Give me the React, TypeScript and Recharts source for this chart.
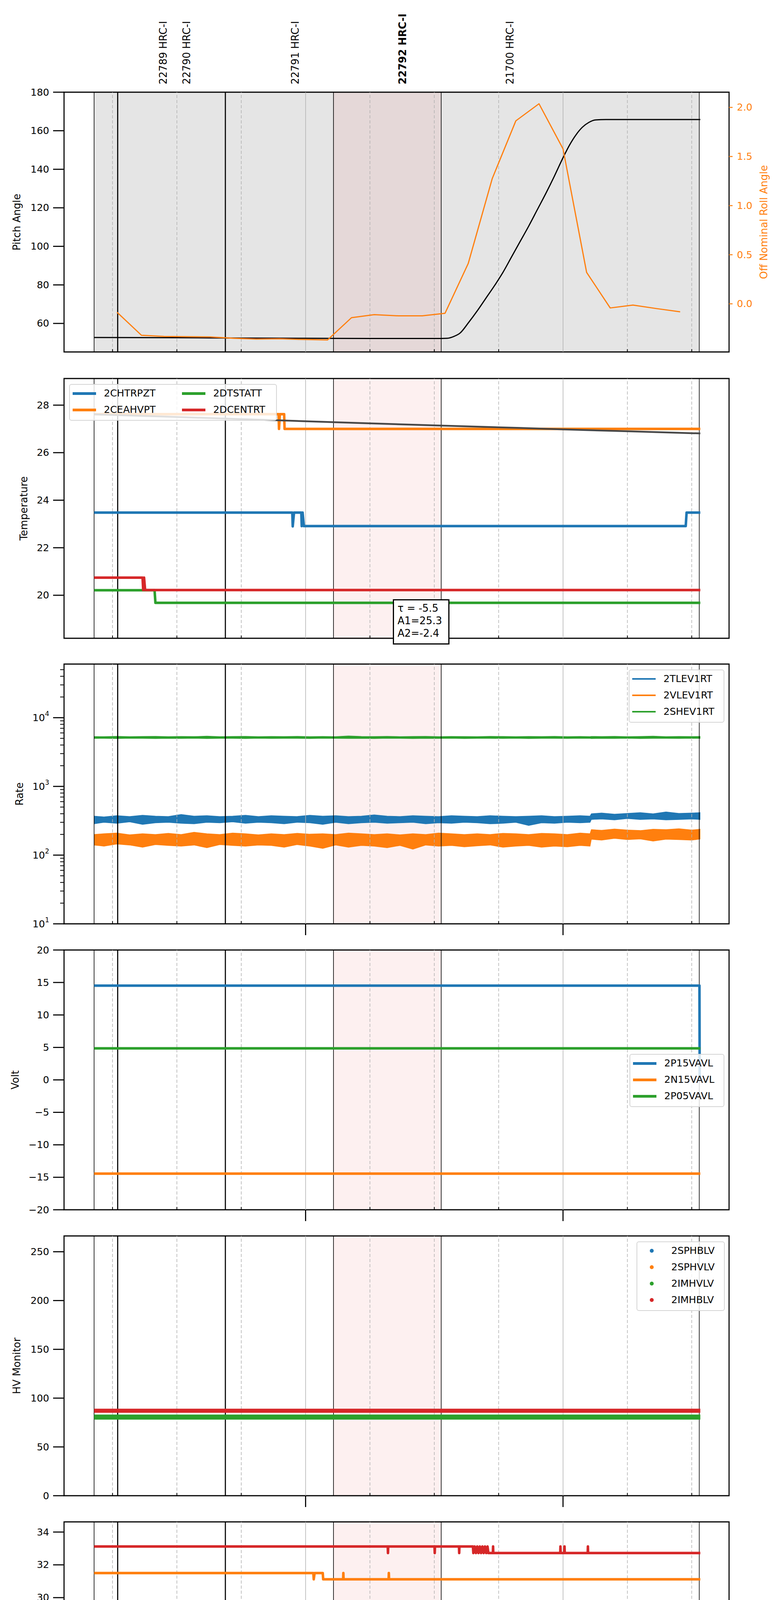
import React from "react";
import { Area, ComposedChart, Line, ReferenceArea, ReferenceLine, XAxis, YAxis } from "recharts";

const BLUE = "#1f77b4";
const ORANGE = "#ff7f0e";
const GREEN = "#2ca02c";
const RED = "#d62728";
const FONT = "DejaVu Sans";

// time axis: minutes after 06:00, 2020-03-23
const X_DOMAIN: [number, number] = [3.7, 158.7];
const X_TICKS = [15, 30, 45, 60, 75, 90, 105, 120, 135, 150];
const X_TICK_LABELS = ["15", "30", "45", "07h", "15", "30", "45", "08h", "15", "30"];
const HOUR_TICKS = [60, 120];

const OBS_EDGES_THIN = [10.7, 66.5, 91.6, 151.75];
const OBS_EDGES_THICK = [16.2, 41.3];
const OBS_SPAN: [number, number] = [10.7, 151.75];
const FOCUS_SPAN: [number, number] = [66.5, 91.6];
const OBS_LABEL_T = [26.83, 32.25, 57.56, 82.6, 107.6];
const OBS_LABELS = ["22789 HRC-I", "22790 HRC-I", "22791 HRC-I", "22792 HRC-I", "21700 HRC-I"];
const FOCUS_LABEL = "22792 HRC-I";

// pitch / roll
const PITCH = [
  [10.7, 52.7], [30, 52.6], [45, 52.4], [60, 52.3], [75, 52.2], [91.6, 52.2], [93, 52.3], [94.5, 53.2],
  [96, 55], [98, 60.5], [100, 66.5], [102, 73], [104, 79.5], [106, 86.5], [108, 94.5], [110, 102.5],
  [112, 110.5], [114, 119], [116, 127.5], [118, 136.5], [120, 146], [121.5, 152.5], [123, 157.8],
  [124.5, 161.8], [126, 164.3], [127.6, 165.6], [130, 165.8], [152, 165.8],
];
const ROLL = [
  [16.05, -0.086], [21.74, -0.32], [26.98, -0.332], [32.8, -0.335], [37.7, -0.337], [43.3, -0.351],
  [48.5, -0.359], [54.0, -0.356], [59.5, -0.363], [65.1, -0.368], [70.7, -0.141], [76.0, -0.11],
  [81.6, -0.122], [87.2, -0.122], [92.5, -0.096], [97.9, 0.41], [103.5, 1.275], [109.0, 1.863],
  [114.4, 2.037], [120.0, 1.578], [125.5, 0.32], [131.0, -0.042], [136.3, -0.013], [141.9, -0.049],
  [147.3, -0.081],
];
const PITCH_TICKS = [60, 80, 100, 120, 140, 160, 180];
const ROLL_TICKS = [0, 0.5, 1, 1.5, 2];

// temperature
const TEMP_MODEL = [[10.7, 27.61], [30, 27.5], [53.7, 27.36], [72, 27.25], [91.6, 27.14], [110, 27.04], [120, 26.98], [135, 26.9], [152, 26.81]];
const CHTRPZT = [[10.7, 23.48], [56.9, 23.48], [57.0, 22.9], [57.3, 23.48], [59.0, 23.48], [59.1, 22.91], [59.3, 23.48], [59.6, 22.91], [148.6, 22.91], [148.8, 23.48], [152, 23.48]];
const CEAHVPT = [[10.7, 27.62], [53.7, 27.62], [53.8, 27.0], [54.0, 27.62], [55.0, 27.62], [55.1, 27.0], [152, 27.0]];
const DTSTATT = [[10.7, 20.21], [24.8, 20.21], [25.0, 19.68], [152, 19.68]];
const DCENTRT = [[10.7, 20.74], [22.0, 20.74], [22.15, 20.22], [22.35, 20.74], [22.6, 20.22], [152, 20.22]];
const TEMP_TICKS = [20, 22, 24, 26, 28];

// rates (noisy bands: low / high envelope)
const RATE_T = [
  10.7, 13, 16, 19, 22, 25, 28, 31, 34, 37,
  40, 43, 46, 49, 52, 55, 58, 61, 64, 67,
  70, 73, 76, 79, 82, 85, 88, 91, 94, 97,
  100, 103, 106, 109, 112, 115, 118, 121, 124, 126.3,
  126.6, 129, 132, 135, 138, 141, 144, 147, 150, 152,
];
const TLEV_LO = [
  285, 300, 290, 305, 280, 295, 300, 290, 285, 300,
  295, 305, 290, 300, 295, 285, 300, 295, 280, 300,
  285, 295, 300, 290, 295, 300, 285, 295, 290, 300,
  295, 285, 290, 300, 270, 295, 290, 300, 295, 300,
  330, 335, 325, 340, 330, 335, 325, 330, 335, 330,
];
const TLEV_HI = [
  370, 360, 375, 365, 380, 370, 365, 390, 370, 375,
  365, 370, 380, 365, 375, 370, 365, 380, 370, 375,
  365, 370, 385, 370, 365, 375, 370, 365, 375, 370,
  365, 375, 370, 365, 370, 375, 365, 370, 375, 370,
  400, 410, 395, 405, 415, 400, 425, 405, 410, 415,
];
const VLEV_LO = [
  140, 135, 145, 140, 130, 142, 138, 135, 140, 128,
  142, 138, 135, 140, 138, 130, 142, 135, 125, 140,
  130, 138, 135, 128, 138, 122, 140, 135, 138, 132,
  136, 140, 130, 135, 138, 130, 135, 132, 138, 135,
  170, 165, 175, 168, 172, 160, 170, 168, 165, 172,
];
const VLEV_HI = [
  200, 205, 210, 198, 205, 200, 208, 200, 215, 205,
  200, 210, 205, 198, 205, 200, 208, 202, 205, 200,
  210, 205, 200, 205, 198, 205, 200, 210, 205, 200,
  205, 200, 208, 205, 200, 208, 205, 200, 210, 205,
  235, 230, 240, 232, 228, 238, 235, 242, 232, 238,
];
const SHEV_LO = [
  4980, 5000, 4960, 5010, 4990, 4970, 5000, 4980, 5010, 4960,
  4990, 5000, 4970, 5010, 4980, 4990, 5000, 4960, 5010, 4990,
  4980, 5000, 4970, 5010, 4990, 4960, 5000, 4980, 5010, 4970,
  4990, 5000, 4980, 5010, 4960, 4990, 5000, 4980, 5010, 4990,
  4970, 5000, 4980, 5010, 4960, 4990, 5000, 4980, 5010, 4990,
];
const SHEV_HI = [
  5320, 5300, 5350, 5310, 5330, 5360, 5300, 5340, 5320, 5380,
  5310, 5330, 5350, 5300, 5340, 5320, 5360, 5310, 5330, 5300,
  5420, 5340, 5320, 5350, 5310, 5330, 5360, 5300, 5340, 5320,
  5310, 5350, 5330, 5300, 5340, 5320, 5360, 5310, 5330, 5300,
  5340, 5320, 5350, 5310, 5330, 5380, 5300, 5340, 5320, 5330,
];
const RATE_MAJOR = [10, 100, 1000, 10000];
const RATE_MINOR = [
  20, 30, 40, 50, 60, 70, 80, 90, 200, 300, 400, 500, 600, 700, 800, 900,
  2000, 3000, 4000, 5000, 6000, 7000, 8000, 9000, 20000, 30000, 40000, 50000,
];

// voltages
const P15VAVL = [[10.7, 14.51], [151.8, 14.51], [151.85, 0]];
const N15VAVL = [[10.7, -14.43], [152, -14.43]];
const P05VAVL = [[10.7, 4.86], [152, 4.86]];
const VOLT_TICKS = [-20, -15, -10, -5, 0, 5, 10, 15, 20];

// HV monitor
const IMHVLV = [[10.7, 80.6], [152, 80.6]];
const IMHBLV = [[10.7, 87.1], [152, 87.1]];
const HV_TICKS = [0, 50, 100, 150, 200, 250];

// detector temperatures
const SPINATM = [[10.7, 20.97], [152, 20.97]];
const SPHVATM = [
  [10.7, 31.5], [61.8, 31.5], [61.9, 31.12], [62.1, 31.5], [64.0, 31.5], [64.1, 31.12], [68.75, 31.12],
  [68.8, 31.5], [68.85, 31.12], [79.35, 31.12], [79.4, 31.5], [79.45, 31.12], [152, 31.12],
];
const IMINATM = [
  [10.7, 20.97], [81.0, 20.97], [81.05, 20.28], [81.1, 20.97], [82.15, 20.97], [82.2, 20.28], [82.3, 20.97],
  [83.3, 20.97], [83.4, 20.28], [83.65, 20.97], [83.9, 20.28], [84.15, 20.97], [84.4, 20.28], [84.65, 20.97],
  [84.9, 20.28], [85.15, 20.97], [85.4, 20.28], [85.65, 20.97], [85.8, 20.28], [152, 20.28],
];
const IMHVATM = [
  [10.7, 33.12], [79.15, 33.12], [79.2, 32.72], [79.25, 33.12], [90.05, 33.12], [90.1, 32.72], [90.15, 33.12],
  [95.75, 33.12], [95.8, 32.72], [95.85, 33.12], [99.0, 33.12], [99.1, 32.72], [99.4, 33.12], [99.7, 32.72],
  [100.0, 33.12], [100.3, 32.72], [100.6, 33.12], [100.9, 32.72], [101.2, 33.12], [101.5, 32.72],
  [101.8, 33.12], [102.1, 32.72], [102.4, 33.12], [102.6, 32.72], [103.65, 32.72], [103.7, 33.12],
  [103.75, 32.72], [119.35, 32.72], [119.4, 33.12], [119.45, 32.72], [120.3, 32.72], [120.35, 33.12],
  [120.4, 32.72], [125.75, 32.72], [125.8, 33.12], [125.85, 32.72], [152, 32.72],
];
const DET_TICKS = [20, 22, 24, 26, 28, 30, 32, 34];

// FEA temperatures
const FHTRMZT = [[10.7, 20.72], [49.8, 20.72], [50.0, 19.12], [50.2, 20.72], [57.5, 20.72], [57.6, 20.18], [149.6, 20.18], [149.7, 20.72], [152, 20.72]];
const FRADPYT = [[10.7, 15.7], [74.6, 15.7], [74.7, 15.24], [119.7, 15.24], [119.8, 15.7], [132.2, 15.7], [132.3, 16.18], [146.7, 16.18], [146.8, 16.66], [152, 16.66]];
const FEPRATM = [[10.7, 23.13], [128.9, 23.13], [128.95, 22.36], [129.0, 23.13], [152, 23.13]];
const FE00ATM = [
  [10.7, 20.77], [25.55, 20.77], [25.6, 21.12], [25.65, 20.77], [34.75, 20.77], [34.8, 20.47], [34.85, 20.77],
  [36.0, 20.77], [36.05, 20.47], [36.1, 20.77], [37.15, 20.77], [37.2, 20.47], [37.25, 20.77], [40.3, 20.77],
  [40.4, 20.47], [40.7, 20.77], [41.0, 20.47], [41.3, 20.77], [41.6, 20.47], [41.9, 20.77], [42.2, 20.47],
  [42.5, 20.77], [42.8, 20.47], [43.1, 20.77], [43.3, 20.47],
  [52.3, 20.47], [52.35, 20.8], [52.4, 20.1], [52.45, 20.47], [60.75, 20.47], [60.8, 19.82], [60.85, 20.47],
  [67.35, 20.47], [67.4, 20.82], [67.45, 20.47], [70.15, 20.47], [70.2, 20.82], [70.25, 20.47],
  [93.65, 20.47], [93.7, 20.12], [93.75, 20.47], [110.05, 20.47], [110.1, 20.12], [110.15, 20.47],
  [118.45, 20.47], [118.5, 20.82], [118.55, 20.47], [129.25, 20.47], [129.3, 19.54], [129.35, 20.47],
  [140.45, 20.47], [140.5, 21.12], [140.55, 20.47], [146.25, 20.47], [146.3, 20.12], [146.35, 20.47],
  [152, 20.47],
];
const FEA_TICKS = [14, 16, 18, 20, 22, 24];

const FIT_LINES = ["τ = -5.5", "A1=25.3", "A2=-2.4"];

// ---- layout
const CHART_W = 2000;
const PAGE_H = 5400;
const PLOT_LEFT = 164;
const RIGHT_GAP = 133;
const PLOT_H = 665;
const XAXIS_H = 80;
const PANEL_TOPS = [236, 969, 1700, 2432, 3164, 3896, 4628];

const toPts = (a: number[][]) => a.map(([t, v]) => ({ t, v }));
const band = (lo: number[], hi: number[]) => RATE_T.map((t, i) => ({ t, r: [lo[i], hi[i]] }));
const minus = (s: string) => s.replace("-", "\u2212");

function xTick(showLabels: boolean, outerTicks: boolean) {
  return (p: any) => {
    const { x, y, payload } = p;
    const i = X_TICKS.indexOf(payload.value);
    if (HOUR_TICKS.includes(payload.value)) {
      return (
        <g>
          {outerTicks && <line x1={x} x2={x} y1={y} y2={y + 29} stroke="#000" strokeWidth={2.8} />}
          {showLabels && (
            <text x={x} y={y + 51} textAnchor="middle" dominantBaseline="central" fontSize={26} fontFamily={FONT} fill="#000">
              {X_TICK_LABELS[i]}
            </text>
          )}
        </g>
      );
    }
    return (
      <g>
        <line x1={x} x2={x} y1={y} y2={y - 7} stroke="#000" strokeWidth={2} />
        {showLabels && (
          <text x={x} y={y + 16} textAnchor="middle" dominantBaseline="central" fontSize={17} fontFamily={FONT} fill="#000">
            {X_TICK_LABELS[i]}
          </text>
        )}
      </g>
    );
  };
}

function leftTick(fmt: (v: number) => string) {
  return (p: any) => {
    const { x, y, payload } = p;
    return (
      <g>
        <line x1={x - 28} x2={x} y1={y} y2={y} stroke="#000" strokeWidth={2.8} />
        <text x={x - 38} y={y} textAnchor="end" dominantBaseline="central" fontSize={25} fontFamily={FONT} fill="#000">
          {fmt(payload.value)}
        </text>
      </g>
    );
  };
}

function rollTick(p: any) {
  const { x, y, payload } = p;
  return (
    <g>
      <line x1={x} x2={x + 9} y1={y} y2={y} stroke={ORANGE} strokeWidth={2.5} />
      <text x={x + 20} y={y} textAnchor="start" dominantBaseline="central" fontSize={25} fontFamily={FONT} fill={ORANGE}>
        {payload.value.toFixed(1)}
      </text>
    </g>
  );
}

function logTick(p: any) {
  const { x, y, payload } = p;
  if (!RATE_MAJOR.includes(payload.value)) {
    return <line x1={x - 10} x2={x} y1={y} y2={y} stroke="#000" strokeWidth={2} />;
  }
  const exp = Math.round(Math.log10(payload.value));
  return (
    <g>
      <line x1={x - 28} x2={x} y1={y} y2={y} stroke="#000" strokeWidth={2.8} />
      <text x={x - 38} y={y} textAnchor="end" dominantBaseline="central" fontSize={25} fontFamily={FONT} fill="#000">
        <tspan>10</tspan>
        <tspan dy={-10} fontSize={17}>{exp}</tspan>
      </text>
    </g>
  );
}

function backdrop(pitchPanel: boolean) {
  return [
    pitchPanel && <ReferenceArea key="obs" x1={OBS_SPAN[0]} x2={OBS_SPAN[1]} fill="#e5e5e5" fillOpacity={1} stroke="none" />,
    <ReferenceArea key="focus" x1={FOCUS_SPAN[0]} x2={FOCUS_SPAN[1]} fill={pitchPanel ? "#e5d8d8" : "#fdf0f0"} fillOpacity={1} stroke="none" />,
    ...X_TICKS.map((t) => (
      <ReferenceLine key={"g" + t} x={t} stroke="#b0b0b0" strokeWidth={1.5} strokeDasharray={HOUR_TICKS.includes(t) ? undefined : "8 5"} />
    )),
    ...OBS_EDGES_THIN.map((t) => <ReferenceLine key={"e" + t} x={t} stroke="#000" strokeWidth={1.6} />),
    ...OBS_EDGES_THICK.map((t) => <ReferenceLine key={"E" + t} x={t} stroke="#000" strokeWidth={2.8} />),
  ];
}

const frame = () => (
  <ReferenceArea key="frame" x1={X_DOMAIN[0]} x2={X_DOMAIN[1]} fill="none" fillOpacity={0} stroke="#000" strokeWidth={2.8} />
);

const xAxis = (showLabels: boolean, outerTicks: boolean) => (
  <XAxis
    key="x"
    dataKey="t"
    type="number"
    domain={X_DOMAIN}
    allowDataOverflow
    ticks={X_TICKS}
    interval={0}
    tickSize={0}
    tickMargin={0}
    tickLine={false}
    axisLine={false}
    height={XAXIS_H}
    tick={xTick(showLabels, outerTicks)}
  />
);

const yAxis = (domain: [number, number], ticks: number[], fmt: (v: number) => string = (v) => minus(String(v))) => (
  <YAxis
    key="y"
    type="number"
    domain={domain}
    allowDataOverflow
    ticks={ticks}
    interval={0}
    width={PLOT_LEFT}
    tickSize={0}
    tickMargin={0}
    tickLine={false}
    axisLine={false}
    tick={leftTick(fmt)}
  />
);

function series(data: number[][], color: string, width = 6.5, yAxisId?: string, curve: "linear" | "monotone" = "linear") {
  return (
    <Line
      key={color + data.length + width}
      data={toPts(data)}
      dataKey="v"
      yAxisId={yAxisId}
      type={curve}
      stroke={color}
      strokeWidth={width}
      strokeLinejoin="round"
      dot={false}
      activeDot={false}
      isAnimationActive={false}
    />
  );
}

function Panel({ index, topRoom = 20, rightAxis = false, children }: any) {
  const h = topRoom + PLOT_H + XAXIS_H;
  return (
    <div style={{ position: "absolute", left: 0, top: PANEL_TOPS[index] - topRoom, width: CHART_W, height: h }}>
      <ComposedChart width={CHART_W} height={h} margin={{ top: topRoom, right: rightAxis ? 0 : RIGHT_GAP, bottom: 0, left: 0 }}>
        {children}
      </ComposedChart>
    </div>
  );
}

interface LegendItem {
  name: string;
  color: string;
}

function LegendBox({ left, top, width, items, columns = 1, dots = false, handle = 7 }: any) {
  const rows = Math.ceil(items.length / columns);
  return (
    <div
      style={{
        position: "absolute",
        left,
        top,
        width,
        height: rows * 42 + 10,
        boxSizing: "border-box",
        border: "2px solid #d5d5d5",
        borderRadius: 6,
        background: "rgba(255,255,255,0.82)",
        fontFamily: FONT,
        fontSize: 25,
      }}
    >
      {items.map((it: LegendItem, i: number) => {
        const col = Math.floor(i / rows);
        const row = i % rows;
        const cy = 22 + row * 42;
        const cx = 7 + col * 280;
        return (
          <div key={it.name} style={{ position: "absolute", left: cx, top: cy - 15, height: 30, display: "flex", alignItems: "center" }}>
            {dots ? (
              <div style={{ width: 60, display: "flex", justifyContent: "center" }}>
                <div style={{ width: 10, height: 10, borderRadius: 5, background: it.color }} />
              </div>
            ) : (
              <div style={{ width: 60, height: handle, background: it.color }} />
            )}
            <span style={{ marginLeft: 20, lineHeight: "30px", whiteSpace: "nowrap" }}>{it.name}</span>
          </div>
        );
      })}
    </div>
  );
}

const Y_TITLES = ["Pitch Angle", "Temperature", "Rate", "Volt", "HV Monitor", "Detector Temp", "FEA Temp"];
const Y_TITLE_X = [43, 61, 50, 39, 43, 63, 63];

export default function App() {
  return (
    <div style={{ position: "relative", width: CHART_W, height: PAGE_H, margin: -8, background: "#fff", fontFamily: FONT, overflow: "hidden" }}>
      {/* pitch and roll */}
      <Panel index={0} topRoom={236} rightAxis>
        {backdrop(true)}
        {OBS_LABEL_T.map((t, i) => (
          <ReferenceLine
            key={"ol" + i}
            x={t}
            stroke="none"
            strokeOpacity={0}
            label={(p: any) => {
              const vb = p.viewBox || {};
              return (
                <text
                  transform={`translate(${vb.x},${vb.y - 20}) rotate(-90)`}
                  textAnchor="start"
                  dominantBaseline="central"
                  fontSize={26}
                  fontFamily={FONT}
                  fontWeight={OBS_LABELS[i] === FOCUS_LABEL ? "bold" : "normal"}
                  fill="#000"
                >
                  {OBS_LABELS[i]}
                </text>
              );
            }}
          />
        ))}
        {xAxis(false, false)}
        {yAxis([45.2, 180], PITCH_TICKS)}
        <YAxis
          yAxisId="r"
          orientation="right"
          type="number"
          domain={[-0.49, 2.155]}
          allowDataOverflow
          ticks={ROLL_TICKS}
          interval={0}
          width={RIGHT_GAP}
          tickSize={0}
          tickMargin={0}
          tickLine={false}
          axisLine={false}
          tick={rollTick}
        />
        {series(PITCH, "#000", 3, undefined, "monotone")}
        {series(ROLL, ORANGE, 3, "r")}
        {frame()}
      </Panel>

      {/* temperature */}
      <Panel index={1}>
        {backdrop(false)}
        {xAxis(false, false)}
        {yAxis([18.19, 29.12], TEMP_TICKS)}
        {series(CHTRPZT, BLUE)}
        {series(CEAHVPT, ORANGE)}
        {series(DTSTATT, GREEN)}
        {series(DCENTRT, RED)}
        {series(TEMP_MODEL, "#474747", 4.5)}
        {frame()}
      </Panel>

      {/* rates */}
      <Panel index={2}>
        {backdrop(false)}
        {xAxis(false, true)}
        <YAxis
          key="y"
          type="number"
          scale="log"
          domain={[10, 60300]}
          allowDataOverflow
          ticks={[...RATE_MAJOR, ...RATE_MINOR]}
          interval={0}
          width={PLOT_LEFT}
          tickSize={0}
          tickMargin={0}
          tickLine={false}
          axisLine={false}
          tick={logTick}
        />
        {[
          { d: band(TLEV_LO, TLEV_HI), c: BLUE },
          { d: band(VLEV_LO, VLEV_HI), c: ORANGE },
          { d: band(SHEV_LO, SHEV_HI), c: GREEN },
        ].map((s) => (
          <Area
            key={s.c}
            data={s.d}
            dataKey="r"
            type="linear"
            stroke={s.c}
            strokeWidth={1.5}
            fill={s.c}
            fillOpacity={1}
            dot={false}
            activeDot={false}
            isAnimationActive={false}
          />
        ))}
        {frame()}
      </Panel>

      {/* voltages */}
      <Panel index={3}>
        {backdrop(false)}
        {xAxis(false, true)}
        {yAxis([-20, 20], VOLT_TICKS)}
        {series(P15VAVL, BLUE)}
        {series(N15VAVL, ORANGE)}
        {series(P05VAVL, GREEN)}
        {frame()}
      </Panel>

      {/* HV monitor */}
      <Panel index={4}>
        {backdrop(false)}
        {xAxis(false, true)}
        {yAxis([0, 266.2], HV_TICKS)}
        {series(IMHVLV, GREEN, 13)}
        {series(IMHBLV, RED, 10.5)}
        {frame()}
      </Panel>

      {/* detector temperatures */}
      <Panel index={5}>
        {backdrop(false)}
        {xAxis(false, true)}
        {yAxis([18.78, 34.62], DET_TICKS)}
        {series(SPINATM, BLUE)}
        {series(SPHVATM, ORANGE)}
        {series(IMINATM, GREEN)}
        {series(IMHVATM, RED)}
        {frame()}
      </Panel>

      {/* FEA temperatures */}
      <Panel index={6}>
        {backdrop(false)}
        {xAxis(true, true)}
        {yAxis([13.73, 24.64], FEA_TICKS)}
        {series(FHTRMZT, BLUE)}
        {series(FRADPYT, ORANGE)}
        {series(FEPRATM, GREEN)}
        {series(FE00ATM, RED)}
        {frame()}
      </Panel>

      {/* legends */}
      <LegendBox
        left={177}
        top={983}
        width={532}
        columns={2}
        items={[
          { name: "2CHTRPZT", color: BLUE },
          { name: "2CEAHVPT", color: ORANGE },
          { name: "2DTSTATT", color: GREEN },
          { name: "2DCENTRT", color: RED },
        ]}
      />
      <LegendBox
        left={1610}
        top={1714}
        width={245}
        handle={4}
        items={[
          { name: "2TLEV1RT", color: BLUE },
          { name: "2VLEV1RT", color: ORANGE },
          { name: "2SHEV1RT", color: GREEN },
        ]}
      />
      <LegendBox
        left={1612}
        top={2698}
        width={243}
        items={[
          { name: "2P15VAVL", color: BLUE },
          { name: "2N15VAVL", color: ORANGE },
          { name: "2P05VAVL", color: GREEN },
        ]}
      />
      <LegendBox
        left={1630}
        top={3178}
        width={226}
        dots
        items={[
          { name: "2SPHBLV", color: BLUE },
          { name: "2SPHVLV", color: ORANGE },
          { name: "2IMHVLV", color: GREEN },
          { name: "2IMHBLV", color: RED },
        ]}
      />
      <LegendBox
        left={1605}
        top={4140}
        width={250}
        items={[
          { name: "2SPINATM", color: BLUE },
          { name: "2SPHVATM", color: ORANGE },
          { name: "2IMINATM", color: GREEN },
          { name: "2IMHVATM", color: RED },
        ]}
      />
      <LegendBox
        left={177}
        top={4871}
        width={254}
        items={[
          { name: "2FHTRMZT", color: BLUE },
          { name: "2FRADPYT", color: ORANGE },
          { name: "2FEPRATM", color: GREEN },
          { name: "2FE00ATM", color: RED },
        ]}
      />

      {/* fit annotation */}
      <div
        style={{
          position: "absolute",
          left: 1006,
          top: 1534,
          width: 145,
          height: 116,
          boxSizing: "border-box",
          border: "3px solid #000",
          background: "#fff",
          padding: "4px 0 0 9px",
          fontFamily: FONT,
          fontSize: 26,
          lineHeight: "32px",
        }}
      >
        {FIT_LINES.map((l) => (
          <div key={l} style={{ whiteSpace: "pre" }}>{l}</div>
        ))}
      </div>

      {/* axis titles */}
      <svg width={CHART_W} height={PAGE_H} style={{ position: "absolute", left: 0, top: 0, pointerEvents: "none" }}>
        {Y_TITLES.map((t, i) => (
          <text
            key={t}
            transform={`translate(${Y_TITLE_X[i]},${PANEL_TOPS[i] + PLOT_H / 2}) rotate(-90)`}
            textAnchor="middle"
            dominantBaseline="central"
            fontSize={26}
            fontFamily={FONT}
            fill="#000"
          >
            {t}
          </text>
        ))}
        <text
          transform={`translate(1956,${PANEL_TOPS[0] + PLOT_H / 2}) rotate(-90)`}
          textAnchor="middle"
          dominantBaseline="central"
          fontSize={26}
          fontFamily={FONT}
          fill={ORANGE}
        >
          Off Nominal Roll Angle
        </text>
        <text x={1015} y={5378} textAnchor="middle" dominantBaseline="central" fontSize={32} fontFamily={FONT} fill="#000">
          2020-03-23 (083)
        </text>
      </svg>
    </div>
  );
}
